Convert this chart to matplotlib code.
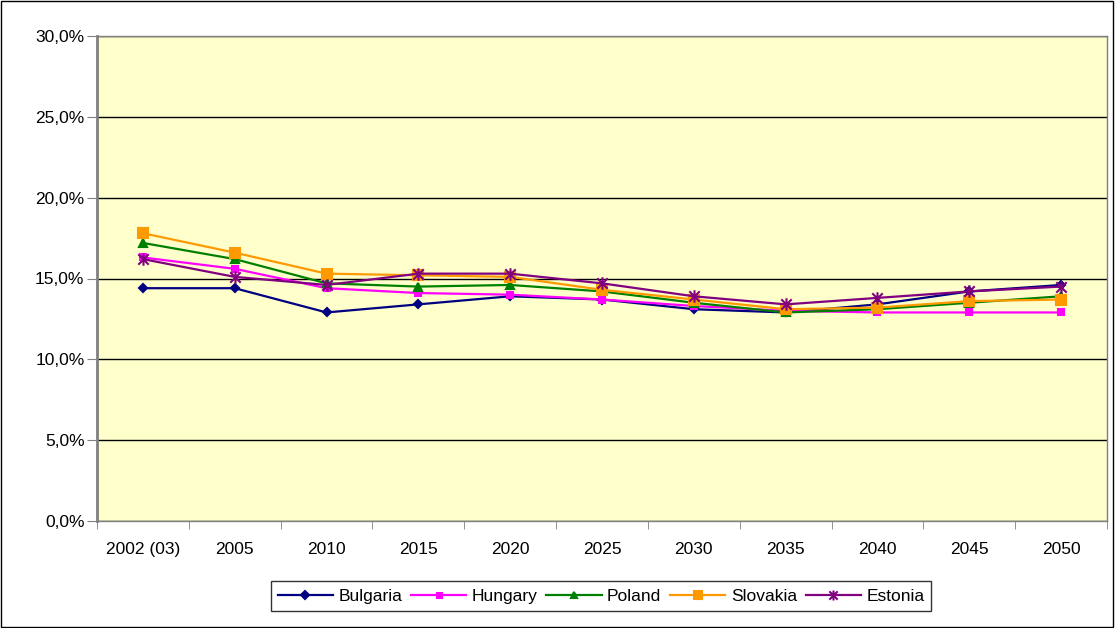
import matplotlib
matplotlib.use("Agg")
import matplotlib.pyplot as plt
from matplotlib.patches import Rectangle
from matplotlib.path import Path

plt.rcParams['font.family'] = ['Liberation Sans', 'DejaVu Sans']

years = ["2002 (03)", "2005", "2010", "2015", "2020", "2025", "2030", "2035", "2040", "2045", "2050"]
bulgaria = [14.4, 14.4, 12.9, 13.4, 13.9, 13.7, 13.1, 12.9, 13.4, 14.2, 14.6]
hungary = [16.3, 15.6, 14.4, 14.1, 14.0, 13.7, 13.3, 13.0, 12.9, 12.9, 12.9]
poland = [17.2, 16.2, 14.7, 14.5, 14.6, 14.2, 13.5, 12.9, 13.1, 13.5, 13.9]
slovakia = [17.8, 16.6, 15.3, 15.2, 15.1, 14.3, 13.7, 13.1, 13.2, 13.6, 13.7]
estonia = [16.2, 15.1, 14.6, 15.3, 15.3, 14.7, 13.9, 13.4, 13.8, 14.2, 14.5]
yticks = [0, 5, 10, 15, 20, 25, 30]
ytick_labels = ["0,0%", "5,0%", "10,0%", "15,0%", "20,0%", "25,0%", "30,0%"]

star = Path([(-1, -1), (1, 1), (-1, 1), (1, -1), (0, -1.2), (0, 1.2)],
            [Path.MOVETO, Path.LINETO, Path.MOVETO, Path.LINETO, Path.MOVETO, Path.LINETO])

fig = plt.figure(figsize=(11.15, 6.28), dpi=100)
ax = fig.add_axes([97/1115, 107/628, 1010/1115, 485/628])
ax.set_facecolor('#FFFFCC')

x = list(range(len(years)))
series = [
    ("Bulgaria", bulgaria, '#000080', 'D', 4.5),
    ("Hungary", hungary, '#FF00FF', 's', 4.5),
    ("Poland", poland, '#008000', '^', 6),
    ("Slovakia", slovakia, '#FF9900', 's', 6.5),
    ("Estonia", estonia, '#800080', star, 9),
]
for name, vals, col, mk, ms in series:
    ax.plot(x, vals, color=col, marker=mk, markersize=ms, linewidth=1.6,
            markeredgecolor=col, markerfacecolor=col, markeredgewidth=1.5, label=name)

ax.set_ylim(0, 30)
ax.set_xlim(-0.5, len(years) - 0.5)
ax.set_yticks(yticks)
ax.set_yticklabels(ytick_labels, fontsize=12.5)
ax.set_xticks(x)
ax.set_xticklabels(years, fontsize=12.5)
ax.set_xticks([i - 0.5 for i in range(len(years) + 1)], minor=True)
ax.tick_params(axis='x', which='major', length=0, pad=15)
ax.tick_params(axis='x', which='minor', length=6, color='#808080')
ax.tick_params(axis='y', which='major', length=7, color='#808080', pad=2)
ax.grid(axis='y', color='black', linewidth=1)
ax.set_axisbelow(True)
for side in ['top', 'right']:
    ax.spines[side].set_color('#808080')
    ax.spines[side].set_linewidth(1)
ax.spines['left'].set_color('#808080')
ax.spines['left'].set_linewidth(2)
ax.spines['bottom'].set_color('#808080')
ax.spines['bottom'].set_linewidth(1)

leg = fig.legend(loc='center', bbox_to_anchor=(601/1115, 1 - 596/628), ncol=5,
                 frameon=True, fancybox=False, fontsize=12.5, handlelength=3.2,
                 columnspacing=0.5, handletextpad=0.3, borderpad=0.4, markerscale=0.8)
leg.get_frame().set_edgecolor('black')
leg.get_frame().set_linewidth(1)

fig.patches.append(Rectangle((0.001, 0.001), 0.997, 0.997, transform=fig.transFigure,
                             fill=False, edgecolor='black', linewidth=1))

fig.savefig('out.png', dpi=100, facecolor='white')
